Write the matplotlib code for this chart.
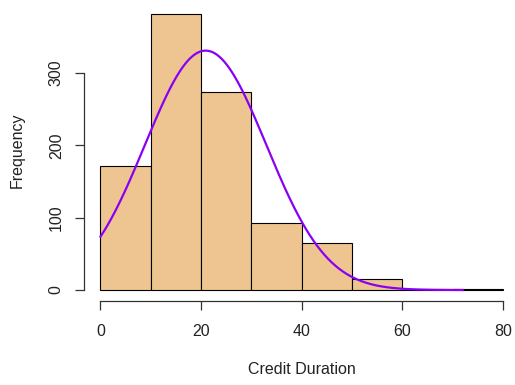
import numpy as np
import matplotlib
matplotlib.use("Agg")
import matplotlib.pyplot as plt

# Data
bin_edges = [0, 10, 20, 30, 40, 50, 60, 70, 80]
counts = [171, 382, 273, 92, 65, 15, 0, 1]
x_ticks = [0, 20, 40, 60, 80]
y_ticks = [0, 100, 200, 300]
# normal density overlay parameters (mean, sd of credit duration, n obs)
dur_mean = 20.9
dur_sd = 12.06
n_obs = 1000
curve_from, curve_to = 0, 72

plt.rcParams['font.family'] = ['Liberation Sans', 'DejaVu Sans']

W, H = 515, 385
fig = plt.figure(figsize=(W / 100, H / 100), dpi=100)

# axes placed in pixel coordinates
left_px, right_px, top_px, bot_px = 84, 515, 4, 301
ax = fig.add_axes([left_px / W, 1 - bot_px / H, (right_px - left_px) / W, (bot_px - top_px) / H])

widths = np.diff(bin_edges)
ax.bar(bin_edges[:-1], counts, width=widths, align='edge',
       color='#EEC591', edgecolor='black', linewidth=0.8, zorder=2)

binw = widths[0]
xs = np.linspace(curve_from, curve_to, 300)
ys = n_obs * binw * np.exp(-0.5 * ((xs - dur_mean) / dur_sd) ** 2) / (dur_sd * np.sqrt(2 * np.pi))
ax.plot(xs, ys, color='#8A00F5', linewidth=1.6, zorder=3)

ax.set_xlim(-3.28, (515 - 100.5) / 5.03)
ax.set_ylim(-15.2, 395.2)

for s in ['top', 'right']:
    ax.spines[s].set_visible(False)
ax.spines['bottom'].set_bounds(0, 80)
ax.spines['left'].set_bounds(0, 300)
ax.spines['bottom'].set_linewidth(0.9)
ax.spines['left'].set_linewidth(0.9)
ax.spines['bottom'].set_color('#333333')
ax.spines['left'].set_color('#333333')

ax.set_xticks(x_ticks)
ax.set_yticks(y_ticks)
ax.set_yticklabels([str(v) for v in y_ticks], rotation=90, va='center')
ax.tick_params(axis='both', length=6.5, width=0.9, color='#333333', labelsize=11.5, labelcolor='#222222')
ax.tick_params(axis='x', pad=10)
ax.tick_params(axis='y', pad=8)

fig.text(17 / W, 1 - 150 / H, 'Frequency', rotation=90, ha='center', va='center', fontsize=11.5, color='#222222')
fig.text(302 / W, 1 - 370 / H, 'Credit Duration', ha='center', va='center', fontsize=11.5, color='#222222')

fig.savefig('out.png', dpi=100)
